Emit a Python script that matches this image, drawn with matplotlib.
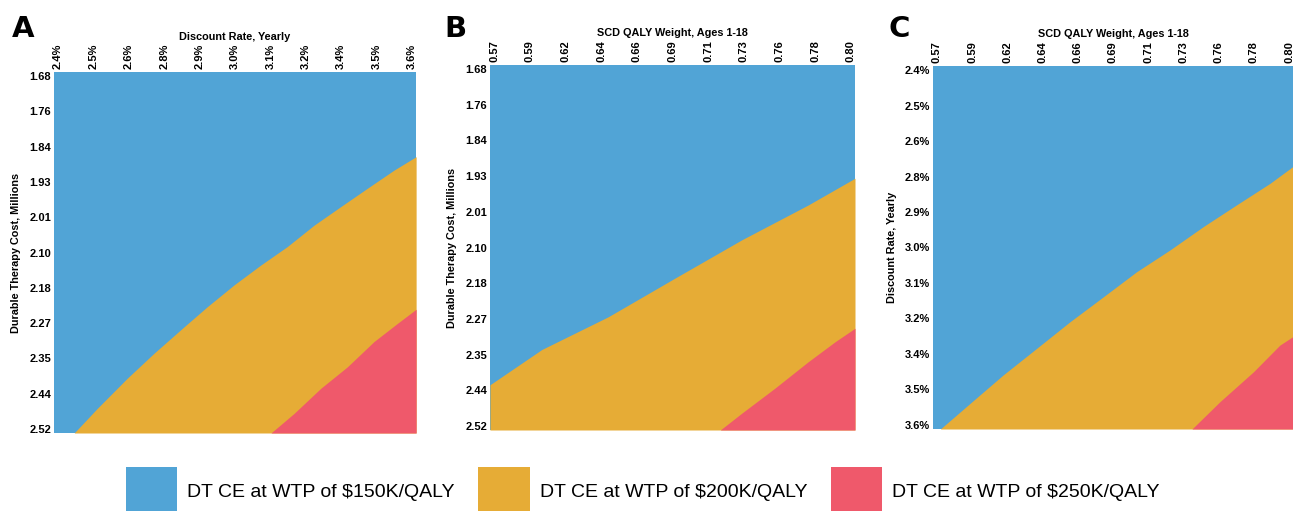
import matplotlib
matplotlib.use("Agg")
import matplotlib.pyplot as plt
import numpy as np
from matplotlib.patches import Patch

# ---------------- data ----------------
rate_ticklabels = ["2.4%", "2.5%", "2.6%", "2.8%", "2.9%", "3.0%", "3.1%", "3.2%", "3.4%", "3.5%", "3.6%"]
cost_ticklabels = ["1.68", "1.76", "1.84", "1.93", "2.01", "2.10", "2.18", "2.27", "2.35", "2.44", "2.52"]
qaly_ticklabels = ["0.57", "0.59", "0.62", "0.64", "0.66", "0.69", "0.71", "0.73", "0.76", "0.78", "0.80"]
rate_range = (2.4, 3.6)
cost_range = (1.68, 2.52)
qaly_range = (0.57, 0.80)

# Panel A: discount rate (x) vs durable therapy cost (y)
a_200_rate = [2.454, 2.533, 2.635, 2.725, 2.827, 2.906, 2.997, 3.087, 3.177, 3.268, 3.358, 3.449, 3.539, 3.614]
a_200_cost = [2.530, 2.471, 2.399, 2.340, 2.277, 2.229, 2.177, 2.130, 2.086, 2.035, 1.991, 1.947, 1.904, 1.872]
a_250_rate = [3.121, 3.200, 3.291, 3.381, 3.471, 3.550, 3.614]
a_250_cost = [2.530, 2.483, 2.423, 2.372, 2.312, 2.269, 2.235]

# Panel B: QALY weight (x) vs durable therapy cost (y)
b_200_qaly = [0.5674, 0.6008, 0.6436, 0.6866, 0.7296, 0.7724, 0.8026]
b_200_cost = [2.423, 2.340, 2.263, 2.172, 2.082, 2.000, 1.937]
b_250_qaly = [0.7156, 0.7296, 0.7510, 0.7724, 0.7897, 0.8026]
b_250_cost = [2.530, 2.490, 2.431, 2.369, 2.322, 2.290]

# Panel C: QALY weight (x) vs discount rate (y)
c_200_qaly = [0.5721, 0.5916, 0.6132, 0.6351, 0.6569, 0.6786, 0.7004, 0.7223, 0.7441, 0.7657, 0.7876, 0.8026]
c_200_rate = [3.614, 3.527, 3.431, 3.341, 3.251, 3.167, 3.082, 3.008, 2.929, 2.856, 2.783, 2.726]
c_250_qaly = [0.7365, 0.7549, 0.7768, 0.7940, 0.8026]
c_250_rate = [3.614, 3.521, 3.420, 3.330, 3.301]

legend_labels = ["DT CE at WTP of $150K/QALY", "DT CE at WTP of $200K/QALY", "DT CE at WTP of $250K/QALY"]
colors = ["#51A4D6", "#E6AC36", "#EF596B"]

# ---------------- figure ----------------
plt.rcParams['font.family'] = ['Liberation Sans', 'DejaVu Sans']
fig = plt.figure(figsize=(12.93, 5.11), dpi=100)

W, H = 1293, 511
def rect(l, r, t, b):
    return [l / W, (H - b) / H, (r - l) / W, (b - t) / H]

PAD = 0.113


def setup(ax, xr, yr, xlabels, ylabels, xtitle, ytitle):
    xt = np.linspace(xr[0], xr[1], len(xlabels))
    yt = np.linspace(yr[0], yr[1], len(ylabels))
    xs = xt[1] - xt[0]
    ys = yt[1] - yt[0]
    ax.set_xlim(xr[0] - PAD * xs, xr[1] + PAD * xs)
    ax.set_ylim(yr[1] + PAD * ys, yr[0] - PAD * ys)
    ax.set_facecolor(colors[0])
    ax.xaxis.tick_top()
    ax.xaxis.set_label_position('top')
    ax.set_xticks(xt)
    ax.set_xticklabels(xlabels, rotation=90, fontsize=8, fontweight='bold')
    ax.set_yticks(yt)
    ax.set_yticklabels(ylabels, fontsize=8, fontweight='bold')
    ax.tick_params(length=0, pad=2)
    ax.set_xlabel(xtitle, fontsize=7.8, fontweight='bold', labelpad=3)
    ax.set_ylabel(ytitle, fontsize=7.8, fontweight='bold', labelpad=6)
    for s in ax.spines.values():
        s.set_visible(False)
    return ax.get_ylim()[0]


axA = fig.add_axes(rect(54, 416, 72, 433))
bot = setup(axA, rate_range, cost_range, rate_ticklabels, cost_ticklabels,
            "Discount Rate, Yearly", "Durable Therapy Cost, Millions")
axA.fill_between(a_200_rate, a_200_cost, bot, color=colors[1], lw=0)
axA.fill_between(a_250_rate, a_250_cost, bot, color=colors[2], lw=0)

axB = fig.add_axes(rect(490, 855, 65, 430))
bot = setup(axB, qaly_range, cost_range, qaly_ticklabels, cost_ticklabels,
            "SCD QALY Weight, Ages 1-18", "Durable Therapy Cost, Millions")
axB.fill_between(b_200_qaly, b_200_cost, bot, color=colors[1], lw=0)
axB.fill_between(b_250_qaly, b_250_cost, bot, color=colors[2], lw=0)

axC = fig.add_axes(rect(933, 1293, 66, 429))
bot = setup(axC, qaly_range, rate_range, qaly_ticklabels, rate_ticklabels,
            "SCD QALY Weight, Ages 1-18", "Discount Rate, Yearly")
axC.fill_between(c_200_qaly, c_200_rate, bot, color=colors[1], lw=0)
axC.fill_between(c_250_qaly, c_250_rate, bot, color=colors[2], lw=0)

for letter, x in zip(["A", "B", "C"], [12, 444, 889]):
    fig.text(x / W, (H - 37) / H, letter, fontsize=21, fontweight='bold',
             family=['DejaVu Sans'], ha='left', va='baseline')

handles = [Patch(facecolor=c, edgecolor='none') for c in colors]
fig.legend(handles, legend_labels, loc='lower center', bbox_to_anchor=(0.497, -0.025),
           ncol=3, frameon=False, fontsize=14, handlelength=2.67, handleheight=3.5,
           handletextpad=0.5, columnspacing=1.2, borderaxespad=0)

fig.savefig("out.png", dpi=100)
